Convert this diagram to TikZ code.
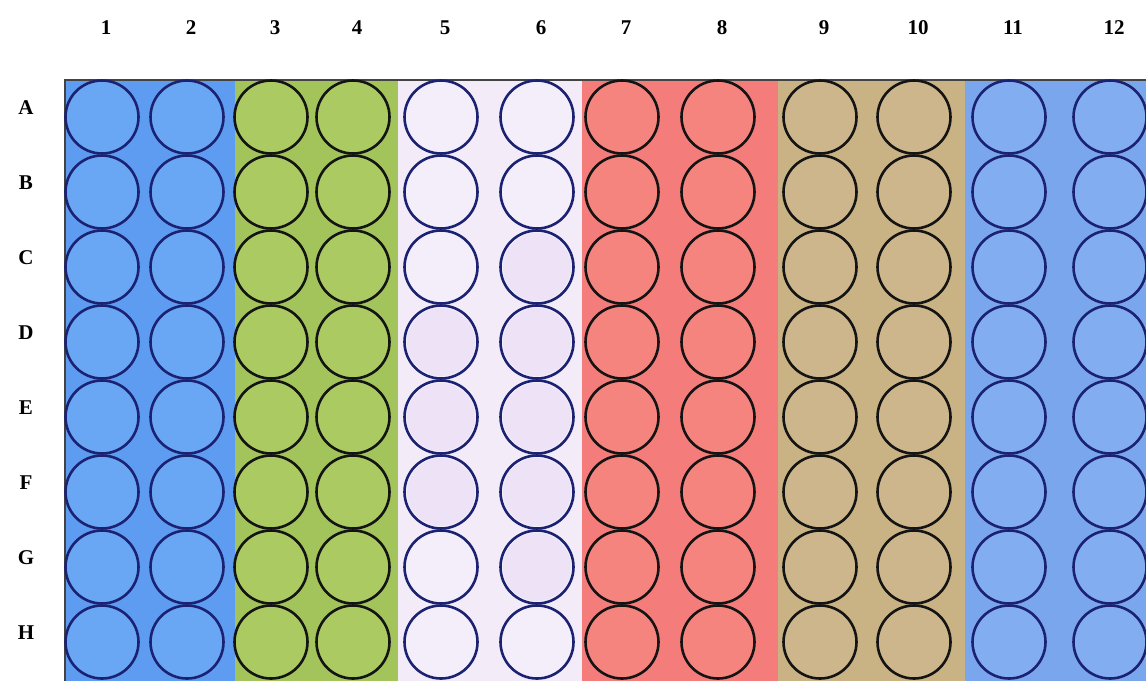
\documentclass[tikz,border=0pt]{standalone}
\usepackage{fontspec}
\setmainfont{Liberation Serif}
\definecolor{bandA}{HTML}{5E9CF2}
\definecolor{wellA}{HTML}{69A6F4}
\definecolor{bandB}{HTML}{A2C45A}
\definecolor{wellB}{HTML}{ABCA62}
\definecolor{bandC}{HTML}{F3ECF8}
\definecolor{wellC}{HTML}{F4EEFA}
\definecolor{wellCl}{HTML}{EEE2F7}
\definecolor{bandD}{HTML}{F47C7A}
\definecolor{wellD}{HTML}{F5847F}
\definecolor{bandE}{HTML}{C9B283}
\definecolor{wellE}{HTML}{CDB68C}
\definecolor{bandF}{HTML}{7AA6EE}
\definecolor{wellF}{HTML}{82ADF0}
\definecolor{navyline}{HTML}{1C2272}
\definecolor{blackline}{HTML}{141414}
\begin{document}
\begin{tikzpicture}[x=1pt,y=-1pt,
  well/.style={circle,minimum size=73pt,inner sep=0pt,line width=2.6pt},
  lbl/.style={font=\fontsize{21}{21}\selectfont\bfseries,inner sep=0pt}]
\useasboundingbox (0,0) rectangle (1146,681);
\fill[white] (0,0) rectangle (1146,681);
% column bands
\fill[bandA] (65,80) rectangle (235,681);
\fill[bandB] (235,80) rectangle (398,681);
\fill[bandC] (398,80) rectangle (582,681);
\fill[bandD] (582,80) rectangle (778,681);
\fill[bandE] (778,80) rectangle (965,681);
\fill[bandF] (965,80) rectangle (1146,681);
\draw[line width=2pt,blackline!80] (65,681) -- (65,80) -- (1146,80);
% wells and column labels
\foreach \c/\x/\f/\d in {1/102/wellA/navyline,2/187/wellA/navyline,
  3/271/wellB/blackline,4/353/wellB/blackline,
  5/441/wellC/navyline,6/537/wellC/navyline,
  7/622/wellD/blackline,8/718/wellD/blackline,
  9/820/wellE/blackline,10/914/wellE/blackline,
  11/1009/wellF/navyline,12/1110/wellF/navyline}{
  \node[lbl] (col\c) at (\x+4,28) {\c};
  \foreach \r [count=\i from 0] in {A,B,C,D,E,F,G,H}{
    \node[well,fill=\f,draw=\d] (w\r\c) at (\x,117+75*\i) {};
  }
}
% lavender-tinted wells in columns 5 and 6
\foreach \r/\c in {D/5,E/5,F/5,C/6,D/6,E/6,F/6,G/6}{
  \fill[wellCl] (w\r\c.center) circle (34pt);
}
% row labels
\foreach \r [count=\i from 0] in {A,B,C,D,E,F,G,H}{
  \node[lbl] (row\r) at (26,108+75*\i) {\r};
}
\end{tikzpicture}
\end{document}
